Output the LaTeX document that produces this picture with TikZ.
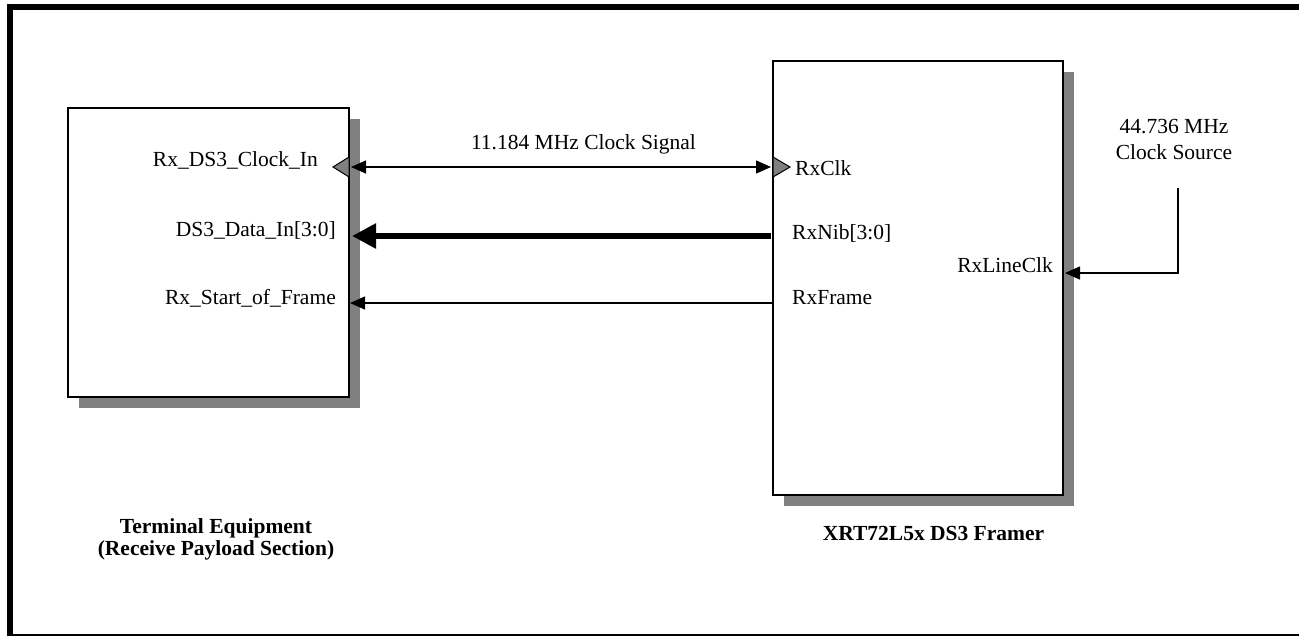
\documentclass[tikz,border=0pt]{standalone}
\usepackage{fontspec}
\setmainfont{Liberation Serif}
\usetikzlibrary{arrows.meta,shadows}
\definecolor{shadowgray}{RGB}{128,128,128}
\begin{document}
\begin{tikzpicture}[x=1pt,y=-1pt,
  lbl/.style={font=\fontsize{21.5}{25}\selectfont, inner sep=0pt},
  blbl/.style={font=\fontsize{21.5}{22}\selectfont\bfseries, inner sep=0pt},
  blk/.style={draw=black, line width=2pt, fill=white, rectangle, inner sep=0pt, outer sep=0pt,
    drop shadow={shadow xshift=11pt, shadow yshift=-11pt, fill=shadowgray, opacity=1}},
  thintip/.style={Triangle[length=15pt,width=13pt]},
  sig/.style={line width=1.3pt, -{Triangle[length=15pt,width=13pt]}},
  bus/.style={line width=5.5pt, -{Triangle[length=24pt,width=24pt]}},
  pin/.style={fill=shadowgray, draw=black, line width=1pt, line join=miter}]
\path[use as bounding box, clip] (0,0) rectangle (1299,635);
% outer frame
\draw[line width=6pt] (9.5,7) rectangle (1310,636.5);
% blocks
\node[blk, minimum width=281pt, minimum height=289pt] (L) at (208.5,252.5) {};
\node[blk, minimum width=290pt, minimum height=434pt] (R) at (918,278) {};
% pins
\coordinate (Lclk) at (L.east |- 0,167);
\coordinate (Ldat) at (L.east |- 0,236);
\coordinate (Lfrm) at (L.east |- 0,303);
\coordinate (Rclk) at (R.west |- 0,167);
\coordinate (Rdat) at (R.west |- 0,236);
\coordinate (Rfrm) at (R.west |- 0,303);
\coordinate (Rline) at (R.east |- 0,273);
\coordinate (src) at (1178,188);
\coordinate (bend) at (1178,273);
% pin triangles
\draw[pin] (Lclk) ++(0,-10) -- ++(-16,10) -- ++(16,10) -- cycle;
\draw[pin] (Rclk) ++(0,-10) -- ++(17,10) -- ++(-17,10) -- cycle;
% connectors
\draw[line width=1.3pt, {Triangle[length=15pt,width=13pt]}-{Triangle[length=15pt,width=13pt]}] ([xshift=2pt]Lclk) -- ([xshift=-2pt]Rclk);
\draw[bus] ([xshift=-2pt]Rdat) -- ([xshift=3pt]Ldat);
\draw[sig] (Rfrm) -- ([xshift=1pt]Lfrm);
\draw[sig] (src) -- (bend) -- ([xshift=2pt]Rline);
% labels
\node[lbl, anchor=base east] (tclkin) at (318,166) {Rx\_DS3\_Clock\_In};
\node[lbl, anchor=base east] (tdatin) at (336,236) {DS3\_Data\_In[3:0]};
\node[lbl, anchor=base east] (tsof) at (336,304) {Rx\_Start\_of\_Frame};
\node[lbl, anchor=base west] (trxclk) at (795,175) {RxClk};
\node[lbl, anchor=base west] (trxnib) at (792,239) {RxNib[3:0]};
\node[lbl, anchor=base west] (trxfrm) at (792,304) {RxFrame};
\node[lbl, anchor=base east] (trxline) at (1053,272) {RxLineClk};
\node[lbl, anchor=base] (tsig) at (583.5,149) {11.184 MHz Clock Signal};
\node[lbl, anchor=base] (tsrc1) at (1174,133) {44.736 MHz};
\node[lbl, anchor=base] (tsrc2) at (1174,159) {Clock Source};
\node[blbl, anchor=base] (tte1) at (216,533) {Terminal Equipment};
\node[blbl, anchor=base] (tte2) at (216,555) {(Receive Payload Section)};
\node[blbl, anchor=base] (tfr) at (933.5,540) {XRT72L5x DS3 Framer};
\end{tikzpicture}
\end{document}
